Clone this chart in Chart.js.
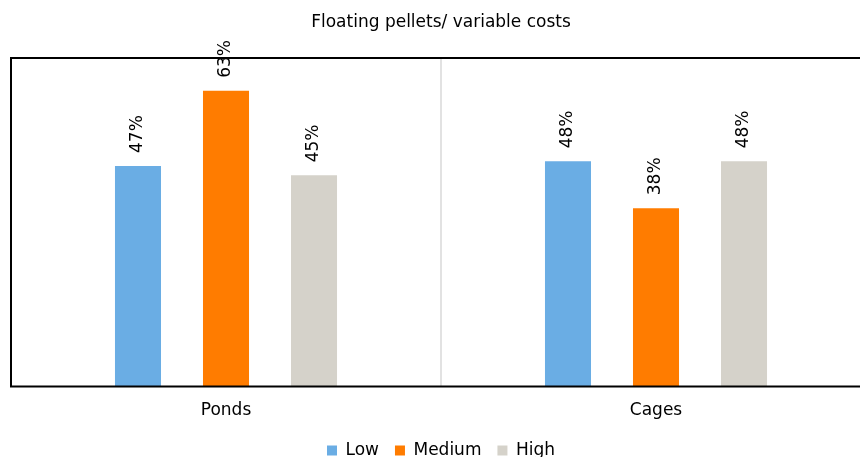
<!DOCTYPE html>
<html>
<head>
<meta charset="utf-8">
<script src="https://cdn.jsdelivr.net/npm/chart.js@4/dist/chart.umd.min.js"></script>
<style>
  html, body { margin: 0; padding: 0; background: #fff; overflow: hidden; }
  #wrap { width: 882px; height: 457px; }
</style>
</head>
<body>
<div id="wrap"><canvas id="c" width="882" height="457"></canvas></div>
<script>
const chartTitle = 'Floating pellets/ variable costs';
const categories = ['Ponds', 'Cages'];
const seriesNames = ['Low', 'Medium', 'High'];
const lowValues = [47, 48];
const mediumValues = [63, 38];
const highValues = [45, 48];
const seriesColors = ['#6AADE4', '#FF7C00', '#D5D2CA'];

const FONT = "'DejaVu Sans', Verdana, sans-serif";

// Frame: black left/top/bottom borders and a light divider between the groups
const framePlugin = {
  id: 'frame',
  beforeDatasetsDraw(chart) {
    const { ctx, chartArea: a, scales } = chart;
    const x = scales.x;
    const mid = (x.getPixelForValue(0) + x.getPixelForValue(1)) / 2;
    ctx.save();
    ctx.strokeStyle = '#D9D9D9';
    ctx.lineWidth = 1.5;
    ctx.beginPath();
    ctx.moveTo(mid, a.top);
    ctx.lineTo(mid, a.bottom);
    ctx.stroke();
    ctx.restore();
  },
  afterDatasetsDraw(chart) {
    const { ctx, chartArea: a } = chart;
    ctx.save();
    ctx.strokeStyle = '#000';
    ctx.lineWidth = 2;
    ctx.beginPath();
    ctx.moveTo(a.right + 20, a.top);
    ctx.lineTo(a.left, a.top);
    ctx.lineTo(a.left, a.bottom);
    ctx.lineTo(a.right + 20, a.bottom);
    ctx.stroke();
    ctx.restore();
  }
};

// Pull the legend row a little closer to the category labels
const legendShiftPlugin = {
  id: 'legendShift',
  afterLayout(chart) {
    const lg = chart.legend;
    if (lg) {
      lg.top -= 9;
      lg.bottom -= 9;
    }
  }
};

// Vertical percentage labels above each bar
const valueLabelPlugin = {
  id: 'valueLabels',
  afterDatasetsDraw(chart) {
    const { ctx } = chart;
    ctx.save();
    ctx.font = '17px ' + FONT;
    ctx.fillStyle = '#000';
    ctx.textAlign = 'left';
    ctx.textBaseline = 'middle';
    chart.data.datasets.forEach((ds, i) => {
      const meta = chart.getDatasetMeta(i);
      meta.data.forEach((bar, j) => {
        ctx.save();
        ctx.translate(bar.x, bar.y - 13);
        ctx.rotate(-Math.PI / 2);
        ctx.fillText(ds.data[j] + '%', 0, 0);
        ctx.restore();
      });
    });
    ctx.restore();
  }
};

new Chart(document.getElementById('c'), {
  type: 'bar',
  data: {
    labels: categories,
    datasets: [
      { label: seriesNames[0], data: lowValues, backgroundColor: seriesColors[0] },
      { label: seriesNames[1], data: mediumValues, backgroundColor: seriesColors[1] },
      { label: seriesNames[2], data: highValues, backgroundColor: seriesColors[2] }
    ]
  },
  options: {
    responsive: false,
    animation: false,
    layout: { padding: { left: 11, right: 11, top: 0, bottom: -21 } },
    datasets: { bar: { barPercentage: 0.523, categoryPercentage: 0.614 } },
    scales: {
      x: {
        grid: { display: false, drawTicks: false },
        border: { display: false },
        ticks: { color: '#000', font: { family: FONT, size: 17 }, padding: 14 }
      },
      y: {
        display: false,
        min: 0,
        max: 70
      }
    },
    plugins: {
      title: {
        display: true,
        text: chartTitle,
        color: '#000',
        font: { family: FONT, size: 17, weight: 'normal' },
        padding: { top: 12, bottom: 25.6 }
      },
      legend: {
        position: 'bottom',
        labels: {
          color: '#000',
          font: { family: FONT, size: 17 },
          boxWidth: 10,
          boxHeight: 10,
          padding: 16
        }
      },
      tooltip: { enabled: false }
    }
  },
  plugins: [framePlugin, valueLabelPlugin, legendShiftPlugin]
});
</script>
</body>
</html>
